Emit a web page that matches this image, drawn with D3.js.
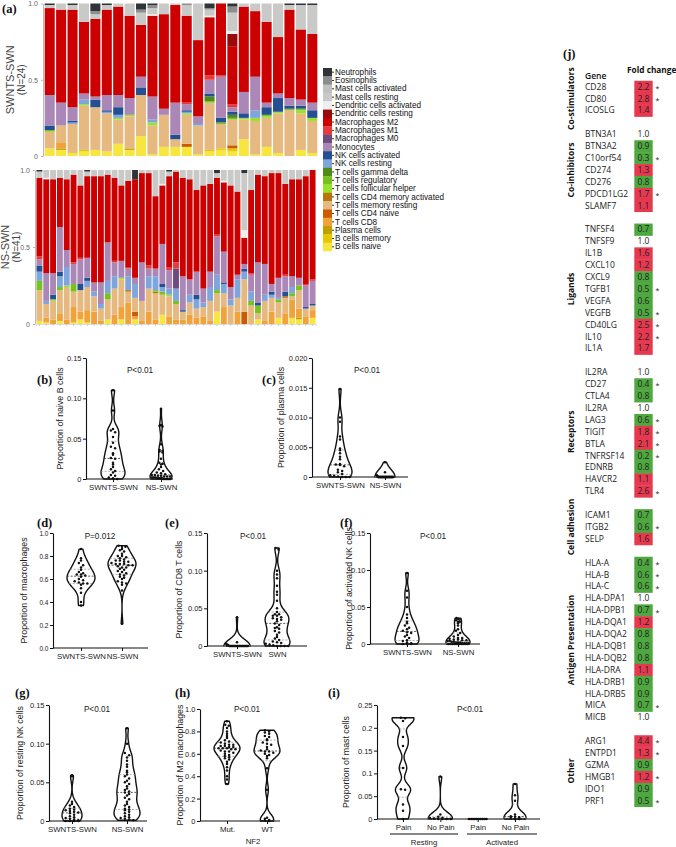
<!DOCTYPE html>
<html>
<head>
<meta charset="utf-8">
<script src="https://cdn.jsdelivr.net/npm/d3@7"></script>
<style>
body { margin: 0; background: #fff; }
svg { display: block; }
</style>
</head>
<body>
<div id="wrapper"></div>
<script>
// ---- (a) cell type fractions (percent, per sample) ----
const cellTypes = ["Neutrophils", "Eosinophils", "Mast cells activated", "Mast cells resting",
  "Dendritic cells activated", "Dendritic cells resting", "Macrophages M2", "Macrophages M1",
  "Macrophages M0", "Monocytes", "NK cells activated", "NK cells resting", "T cells gamma delta",
  "T cells regulatory", "T cells follicular helper", "T cells CD4 memory activated",
  "T cells memory resting", "T cells CD4 naive", "T cells CD8", "Plasma cells", "B cells memory",
  "B cells naive"]
const cellColors = ["#2f3437", "#8c8e8e", "#bfc1bf", "#c9cac8", "#efefed", "#9b0a0a", "#cc0000",
  "#e8393b", "#6d4b7d", "#aa87b7", "#244f93", "#7ea5dc", "#4f8c14", "#77c21c", "#99e22c",
  "#b8760a", "#e5b97f", "#cc5a00", "#f2a23a", "#bfa000", "#e6c800", "#f7e540"]

// SWNTS-SWN, 24 samples
const topNeut     = [1,0,1,0,5,1,0,0,4,1,0,0,0,0,3,0,2,0,0,0,0,1,1,1]
const topEos      = [0,0,0,0,2,0,0,0,2,2,0,0,1,0,1,0,4,0,0,0,0,0,0,0]
const topMastAct  = [0,0,0,0,0,0,0,0,0,0,0,0,0,0,0,0,0,0,0,0,0,0,0,0]
const topMastRest = [2,4,3,12,3,3,2,8,8,4,7,1,7,24,4,0,12,2,5,12,22,3,16,19]
const topDcAct    = [0,0,0,0,0,0,0,0,0,1,0,0,0,0,1,0,2,0,0,0,0,0,0,0]
const topDcRest   = [0,0,0,0,0,0,0,0,0,0,0,0,0,0,0,0,8,0,0,0,0,0,0,0]
const topM2       = [57,61,64,47,51,56,58,54,34,53,62,64,57,50,38,47,38,56,43,53,37,58,46,45]
const topM1       = [0,0,0,0,0,0,0,0,0,0,0,0,1,0,3,1,2,0,0,0,0,0,0,0]
const topM0       = [0,0,0,0,0,0,0,0,0,0,0,0,0,0,0,0,0,0,0,0,0,0,0,0]
const topMono     = [20,15,9,4,2,10,8,11,7,15,4,21,4,5,9,27,3,14,22,3,3,5,4,5]
const topNkAct    = [3,0,1,0,5,1,5,0,5,0,0,3,1,0,2,3,2,3,0,5,9,2,2,5]
const topNkRest   = [0,0,1,3,0,1,2,0,0,2,0,0,1,1,0,0,0,0,5,0,0,0,0,0]
const topGd       = [0,0,0,0,0,0,0,0,0,0,0,0,0,0,3,0,2,0,0,0,0,0,0,0]
const topTreg     = [1,0,0,0,0,0,0,0,0,0,0,0,0,0,1,1,1,0,0,1,0,1,1,0]
const topTfh      = [0,0,0,1,0,0,1,1,0,2,0,0,1,0,0,0,0,1,2,1,1,0,2,2]
const topCd4MA    = [0,0,0,0,0,0,0,0,0,0,0,0,0,0,0,0,0,0,0,0,0,0,0,0]
const topMemRest  = [11,11,19,29,28,25,16,21,27,19,21,5,19,19,31,16,17,13,22,19,26,30,24,21]
const topCd4N     = [0,0,0,0,0,0,0,0,0,0,0,0,2,0,0,0,2,0,0,0,0,0,0,0]
const topCd8      = [0,4,0,0,0,0,0,0,0,0,0,0,0,0,0,0,0,0,0,0,0,0,0,0]
const topPlasma   = [0,1,0,0,0,0,0,1,0,0,0,0,0,0,0,0,0,0,0,0,0,0,0,0]
const topBMem     = [0,0,0,1,0,0,0,0,0,0,0,0,0,0,1,1,2,0,0,0,0,0,0,0]
const topBNaive   = [5,4,2,3,4,3,8,4,13,1,6,6,6,1,3,4,3,11,1,6,2,0,4,2]

// NS-SWN, 41 samples
const botNeut     = [1,0,0,0,0,0,0,1,0,0,0,0,0,0,6,0,0,0,0,1,0,0,0,0,0,0,2,0,0,0,2,0,0,0,0,0,0,0,0,0,0]
const botEos      = [0,0,0,0,0,0,0,0,0,0,0,0,0,0,0,0,0,0,0,0,0,0,0,0,0,0,0,0,0,0,0,0,0,0,0,0,0,0,0,0,0]
const botMastAct  = [0,0,0,0,0,0,0,0,0,0,0,0,0,0,0,0,0,0,0,0,0,0,0,0,0,0,0,0,0,0,0,0,0,0,0,0,0,0,0,0,0]
const botMastRest = [4,5,6,5,6,3,10,3,4,4,3,5,10,7,0,2,2,17,9,3,1,5,6,13,10,9,3,7,10,14,37,13,3,4,2,2,9,6,6,4,0]
const botDcAct    = [0,1,0,0,0,0,0,0,0,0,0,0,0,0,0,0,0,0,1,0,0,0,0,0,0,0,0,1,0,0,5,0,0,0,0,0,0,0,0,0,0]
const botDcRest   = [0,0,0,0,0,0,0,0,0,0,0,0,0,0,0,0,0,0,0,0,0,0,0,0,0,0,0,0,0,0,0,0,0,0,0,0,0,0,0,0,0]
const botM2       = [51,61,61,32,46,57,47,53,69,69,44,54,49,56,64,58,60,47,38,59,59,64,65,53,67,57,37,45,66,54,17,54,57,57,72,68,59,63,64,70,71]
const botM1       = [2,0,0,0,0,1,1,0,0,0,0,1,0,1,0,0,2,0,0,2,4,0,0,0,0,0,1,0,0,0,0,1,0,0,0,0,1,0,0,1,1]
const botM0       = [0,0,0,0,0,0,0,0,0,0,0,0,0,0,0,0,0,0,0,0,13,0,0,0,0,0,0,0,0,0,0,0,0,0,0,0,0,0,0,0,0]
const botMono     = [4,18,14,29,11,13,16,13,6,14,25,9,11,5,4,25,5,5,26,12,0,22,10,15,9,10,25,20,8,3,3,11,26,20,5,13,10,7,5,14,15]
const botNkAct    = [4,0,3,3,0,0,4,2,0,0,0,0,0,0,0,0,0,0,2,0,0,1,0,3,0,0,0,1,0,0,2,0,2,0,2,0,3,0,0,1,1]
const botNkRest   = [6,2,0,7,12,0,0,4,3,3,8,8,0,9,9,0,8,9,3,4,8,0,5,6,3,9,10,6,4,12,5,6,0,4,2,1,0,4,0,0,0]
const botGd       = [0,0,0,0,0,0,0,0,0,0,0,0,0,0,0,0,0,0,0,0,0,0,0,0,0,0,0,0,0,0,0,0,0,0,0,0,0,0,0,0,0]
const botTreg     = [6,0,0,2,0,5,0,0,0,0,4,0,0,0,0,0,0,1,2,0,2,0,0,0,0,0,2,0,0,0,0,3,5,0,0,2,0,2,3,0,0]
const botTfh      = [0,0,1,0,1,0,0,0,0,0,0,0,1,0,0,0,0,0,0,1,0,0,0,0,0,0,0,0,0,0,0,0,0,0,0,0,0,0,0,0,0]
const botCd4MA    = [0,0,0,0,0,0,0,0,0,0,0,0,0,1,0,0,0,1,0,0,0,0,0,0,0,0,0,0,0,0,0,0,0,0,0,0,1,0,0,0,0]
const botMemRest  = [20,9,12,15,21,10,14,15,10,8,13,17,18,7,9,13,15,17,13,13,10,5,8,6,6,13,12,9,12,9,21,12,4,13,9,10,10,2,12,5,3]
const botCd4N     = [0,0,0,0,0,0,0,0,0,0,0,0,0,0,3,0,0,0,0,0,0,0,0,0,0,0,0,0,0,0,8,0,0,0,0,0,0,0,0,0,0]
const botCd8      = [0,3,3,5,3,10,5,8,8,2,0,6,8,14,2,2,8,3,0,5,3,3,6,4,5,2,0,11,0,8,0,0,0,2,8,0,7,12,6,5,5]
const botPlasma   = [0,0,0,0,0,0,0,0,0,0,0,0,0,0,0,0,0,0,0,0,0,0,0,0,0,0,0,0,0,0,0,0,0,0,0,0,0,0,1,0,0]
const botBMem     = [0,0,0,0,0,0,0,0,0,0,0,0,0,0,0,0,0,0,0,0,0,0,0,0,0,0,0,0,0,0,0,0,0,0,0,0,0,0,0,0,0]
const botBNaive   = [2,1,0,2,0,1,3,1,0,0,3,0,3,0,3,0,0,0,6,0,0,0,0,0,0,0,8,0,0,0,0,0,3,0,0,4,0,4,3,0,4]

// ---- (b)-(i) per-sample proportions ----
const naiveB_SWNTS = [0.110,0.085,0.062,0.060,0.058,0.052,0.045,0.040,0.038,0.032,0.030,0.026,0.025,0.020,0.018,0.015,0.012,0.010,0.008,0.005,0.004,0.002,0.001,0]
const naiveB_NS = [0.087,0.067,0.066,0.065,0.043,0.036,0.035,0.034,0.033,0.025,0.020,0.019,0.018,0.015,0.012,0.010,0.008,0.007,0.006,0.005,0.005,0.004,0.004,0.003,0.003,0.003,0.002,0.002,0.002,0.002,0.001,0.001,0.001,0.001,0.001,0,0,0,0,0,0]
const plasma_SWNTS = [0.0148,0.0100,0.0093,0.0068,0.0063,0.0048,0.0045,0.0040,0.0034,0.0030,0.0022,0.0021,0.0020,0.0018,0.0012,0.0010,0.0008,0.0005,0.0003,0.0002,0.0001,0,0,0]
const plasma_NS = [0.0025,0.0008,0.0003,0.0002,0.0001,0,0,0,0,0,0,0,0,0,0,0,0,0,0,0,0,0,0,0,0,0,0,0,0,0,0,0,0,0,0,0,0,0,0,0,0]
const macro_SWNTS = [0.86,0.78,0.76,0.74,0.72,0.70,0.68,0.66,0.65,0.64,0.64,0.63,0.62,0.60,0.59,0.58,0.57,0.56,0.56,0.55,0.52,0.48,0.40,0.37]
const macro_NS = [0.89,0.88,0.88,0.86,0.85,0.84,0.82,0.80,0.80,0.79,0.78,0.77,0.76,0.76,0.75,0.75,0.74,0.73,0.73,0.73,0.72,0.72,0.71,0.70,0.70,0.69,0.68,0.67,0.66,0.65,0.64,0.63,0.62,0.61,0.60,0.58,0.57,0.56,0.55,0.50,0.21]
const cd8_SWNTS = [0.038,0.005,0.003,0.002,0.001,0,0,0,0,0,0,0,0,0,0,0,0,0,0,0,0,0,0,0]
const cd8_SWN = [0.130,0.128,0.100,0.095,0.090,0.080,0.072,0.068,0.060,0.050,0.045,0.042,0.042,0.040,0.040,0.038,0.037,0.036,0.035,0.033,0.030,0.028,0.025,0.024,0.023,0.020,0.018,0.015,0.012,0.010,0.008,0.006,0.005,0.004,0.003,0.002,0.001,0,0,0,0]
const nkAct_SWNTS = [0.096,0.072,0.063,0.050,0.040,0.035,0.030,0.028,0.025,0.022,0.020,0.018,0.016,0.015,0.012,0.010,0.008,0.005,0.004,0.002,0.001,0,0,0]
const nkAct_NS = [0.035,0.034,0.033,0.032,0.030,0.030,0.028,0.025,0.020,0.018,0.015,0.012,0.010,0.008,0.008,0.007,0.006,0.006,0.005,0.005,0.004,0.004,0.003,0.003,0.002,0.002,0.002,0.001,0.001,0.001,0.001,0,0,0,0,0,0,0,0,0,0]
const nkRest_SWNTS = [0.059,0.058,0.025,0.022,0.020,0.018,0.016,0.015,0.014,0.013,0.012,0.011,0.010,0.008,0.006,0.005,0.004,0.003,0.002,0.001,0,0,0,0]
const nkRest_NS = [0.120,0.100,0.088,0.085,0.082,0.078,0.073,0.070,0.065,0.063,0.060,0.058,0.055,0.052,0.050,0.048,0.045,0.042,0.040,0.038,0.037,0.035,0.033,0.030,0.028,0.025,0.022,0.020,0.018,0.016,0.015,0.014,0.012,0.010,0.008,0.006,0.005,0.004,0.003,0.002,0.001]
const m2_Mut = [0.89,0.86,0.85,0.83,0.80,0.78,0.76,0.74,0.72,0.71,0.70,0.69,0.68,0.68,0.67,0.67,0.66,0.66,0.65,0.65,0.65,0.64,0.64,0.63,0.62,0.62,0.61,0.60,0.59,0.58,0.57,0.56,0.55,0.53,0.51,0.48,0.45,0.40,0.37,0.33]
const m2_WT = [0.81,0.80,0.79,0.78,0.76,0.75,0.73,0.72,0.70,0.69,0.68,0.66,0.64,0.63,0.62,0.62,0.61,0.60,0.59,0.58,0.56,0.47,0.28,0.03,0.02,0.01,0.005,0]
const mastRest_Pain = [0.222,0.221,0.215,0.180,0.160,0.112,0.065,0.064,0.032,0.018,0]
const mastRest_NoPain = [0.093,0.010,0.005,0.003,0.002,0.001,0,0,0,0]
const mastAct_Pain = [0,0,0,0,0,0,0,0,0,0]
const mastAct_NoPain = [0.077,0.052,0.040,0.010,0.006,0.005,0.004,0.002,0,0]

// ---- (j) fold change table ----
const groupNames = ["Co-stimulators", "Co-inhibitors", "Ligands", "Receptors", "Cell adhesion", "Antigen Presentation", "Other"]
const groupSizes = [3, 7, 11, 11, 3, 14, 6]
const genes = ["CD28","CD80","ICOSLG",
  "BTN3A1","BTN3A2","C10orf54","CD274","CD276","PDCD1LG2","SLAMF7",
  "TNFSF4","TNFSF9","IL1B","CXCL10","CXCL9","TGFB1","VEGFA","VEGFB","CD40LG","IL10","IL1A",
  "IL2RA","CD27","CTLA4","IL2RA","LAG3","TIGIT","BTLA","TNFRSF14","EDNRB","HAVCR2","TLR4",
  "ICAM1","ITGB2","SELP",
  "HLA-A","HLA-B","HLA-C","HLA-DPA1","HLA-DPB1","HLA-DQA1","HLA-DQA2","HLA-DQB1","HLA-DQB2","HLA-DRA","HLA-DRB1","HLA-DRB5","MICA","MICB",
  "ARG1","ENTPD1","GZMA","HMGB1","IDO1","PRF1"]
const foldChange = [2.2,2.8,1.4,
  1.0,0.9,0.3,1.3,0.8,1.7,1.1,
  0.7,1.0,1.6,1.2,0.8,0.5,0.6,0.5,2.5,2.2,1.7,
  1.0,0.4,0.8,1.0,0.6,1.8,2.1,0.2,0.8,1.1,2.6,
  0.7,0.6,1.6,
  0.4,0.6,0.6,1.0,0.7,1.2,0.8,0.8,0.8,1.1,0.9,0.9,0.7,1.0,
  4.4,1.3,0.9,1.2,0.9,0.5]
const significant = [1,1,0,
  0,0,1,0,0,1,0,
  0,0,0,0,0,1,0,1,1,1,0,
  0,1,0,0,1,1,1,1,0,0,1,
  0,1,0,
  1,1,1,0,1,0,0,0,0,0,0,0,1,0,
  1,1,0,1,0,1]

const sans = "'Liberation Sans', Arial, sans-serif"
const svg = d3.select("#wrapper").append("svg")
  .attr("width", 676).attr("height", 847)
  .style("font-family", sans)

const cellColor = d3.scaleOrdinal().domain(cellTypes).range(cellColors)

function panelTag(text, x, y) {
  svg.append("text").attr("x", x).attr("y", y).text(text)
    .style("font-family", "'Liberation Serif', 'DejaVu Serif', serif")
    .style("font-weight", "bold").style("font-size", "12.5px").attr("fill", "#111")
}

// ---------- (a) stacked bars ----------
function drawStack(series, dims) {
  const n = series[0].length
  const rows = d3.range(n).map(i => {
    const r = {id: i}
    cellTypes.forEach((k, j) => r[k] = series[j][i])
    return r
  })
  const layers = d3.stack()
    .keys(cellTypes.slice().reverse())
    .offset(d3.stackOffsetExpand)(rows)

  const x = d3.scaleBand().domain(d3.range(n))
    .range([dims.left, dims.right]).paddingInner(dims.pad).paddingOuter(dims.pad / 2)
  const y = d3.scaleLinear().domain([0, 1]).range([dims.bottom, dims.top])

  const g = svg.append("g")
  g.selectAll("g.layer").data(layers).join("g")
    .attr("fill", d => cellColor(d.key))
    .selectAll("rect").data(d => d).join("rect")
    .attr("x", d => x(d.data.id))
    .attr("width", x.bandwidth())
    .attr("y", d => y(d[1]))
    .attr("height", d => Math.max(0, y(d[0]) - y(d[1])))

  const yAxis = g.append("g")
    .attr("transform", `translate(${dims.left - 1},0)`)
    .call(d3.axisLeft(y).tickValues([0, 0.5, 1])
      .tickFormat(d => d === 0 ? "0" : d3.format(".1f")(d)).tickSize(2).tickSizeOuter(0))
  yAxis.select(".domain").attr("stroke", "#bbb")
  yAxis.selectAll(".tick line").attr("stroke", "#bbb")
  yAxis.selectAll("text").attr("fill", "#666").style("font-size", "7px").style("font-family", sans)

  if (dims.xTicks) {
    const xAxis = g.append("g")
      .attr("transform", `translate(0,${dims.bottom})`)
      .call(d3.axisBottom(x).tickSize(2).tickFormat(""))
    xAxis.select(".domain").attr("stroke", "#ddd")
    xAxis.selectAll(".tick line").attr("stroke", "#ccc")
  }

  const cy = (dims.top + dims.bottom) / 2
  g.append("text").attr("transform", `translate(${dims.labelX},${cy}) rotate(-90)`)
    .attr("text-anchor", "middle").attr("fill", "#444").style("font-size", "11px").text(dims.label)
  g.append("text").attr("transform", `translate(${dims.labelX + 11},${cy}) rotate(-90)`)
    .attr("text-anchor", "middle").attr("fill", "#444").style("font-size", "10px").text(dims.sub)
}

const topSeries = [topNeut, topEos, topMastAct, topMastRest, topDcAct, topDcRest, topM2, topM1, topM0,
  topMono, topNkAct, topNkRest, topGd, topTreg, topTfh, topCd4MA, topMemRest, topCd4N, topCd8,
  topPlasma, topBMem, topBNaive]
const botSeries = [botNeut, botEos, botMastAct, botMastRest, botDcAct, botDcRest, botM2, botM1, botM0,
  botMono, botNkAct, botNkRest, botGd, botTreg, botTfh, botCd4MA, botMemRest, botCd4N, botCd8,
  botPlasma, botBMem, botBNaive]

panelTag("(a)", 2, 13)
drawStack(topSeries, {left: 44, right: 318, top: 3.5, bottom: 156, pad: 0.12,
  label: "SWNTS-SWN", sub: "(N=24)", labelX: 14, xTicks: false})
drawStack(botSeries, {left: 36, right: 316, top: 170, bottom: 324, pad: 0.14,
  label: "NS-SWN", sub: "(N=41)", labelX: 9, xTicks: true})

// legend
const legendY = d3.scaleBand().domain(cellTypes).range([68, 251])
const legend = svg.append("g")
legend.selectAll("rect").data(cellTypes).join("rect")
  .attr("x", 323).attr("width", 9)
  .attr("y", d => legendY(d)).attr("height", legendY.bandwidth() + 0.3)
  .attr("fill", d => cellColor(d))
const legendAxis = legend.append("g").attr("transform", "translate(332,0)")
  .call(d3.axisRight(legendY).tickSize(2).tickPadding(1))
legendAxis.select(".domain").remove()
legendAxis.selectAll(".tick line").attr("stroke", "#333")
legendAxis.selectAll("text").attr("fill", "#111").style("font-size", "8.2px").style("font-family", sans)

// ---------- violins ----------
function drawViolin(c) {
  const g = svg.append("g")
  const y = d3.scaleLinear().domain([0, c.max]).range([c.yBot, c.yTop])
  const x = d3.scalePoint().domain(d3.range(c.cats.length)).range([c.cx0, c.cx1])

  const yAxis = g.append("g").attr("transform", `translate(${c.x0},0)`)
    .call(d3.axisLeft(y).tickValues(c.ticks).tickFormat(c.fmt).tickSize(3).tickSizeOuter(0).tickPadding(1.5))
  yAxis.select(".domain").attr("stroke", "#111").attr("stroke-width", 1.1)
  yAxis.selectAll(".tick line").attr("stroke", "#111").attr("stroke-width", 1)
  yAxis.selectAll("text").attr("fill", "#222").style("font-size", c.tickSize || "7.5px").style("font-family", sans)

  g.append("line").attr("x1", c.x0).attr("x2", c.xEnd).attr("y1", c.yBot).attr("y2", c.yBot)
    .attr("stroke", "#111").attr("stroke-width", 1.1)
  const xAxis = g.append("g").attr("transform", `translate(0,${c.yBot})`)
    .call(d3.axisBottom(x).tickFormat(i => c.cats[i]).tickSize(3).tickSizeOuter(0).tickPadding(2))
  xAxis.select(".domain").remove()
  xAxis.selectAll(".tick line").attr("stroke", "#111")
  xAxis.selectAll("text").attr("fill", "#222").style("font-size", "7.8px").style("font-family", sans)

  g.append("text")
    .attr("transform", `translate(${c.labelX},${(c.yTop + c.yBot) / 2 + (c.labelDy || 0)}) rotate(-90)`)
    .attr("text-anchor", "middle").attr("fill", "#222").style("font-size", "8.8px").text(c.label)
  g.append("text").attr("x", c.px).attr("y", c.py).attr("text-anchor", "middle")
    .attr("fill", "#222").style("font-size", "8.2px").text(c.p)

  c.groups.forEach((vals, i) => {
    const cx = x(i)
    const hwMax = c.halfW[i]
    const lo = d3.min(vals), hi = d3.max(vals)
    const bw = c.bw
    const dens = v => d3.sum(vals, d => Math.exp(-0.5 * ((v - d) / bw) ** 2))
    let widthAt
    if (hi - lo < 1e-9) {
      widthAt = () => hwMax
      g.append("line").attr("x1", cx - hwMax).attr("x2", cx + hwMax)
        .attr("y1", y(lo)).attr("y2", y(lo)).attr("stroke", "#111").attr("stroke-width", 1.6)
    } else {
      const ys = d3.range(81).map(k => lo + (hi - lo) * k / 80)
      const dmax = d3.max(ys, dens)
      const w = d3.scaleLinear().domain([0, dmax]).range([0, hwMax])
      widthAt = v => w(dens(v))
      const pts = ys.map(v => [v, widthAt(v)])
      const area = d3.area().curve(d3.curveBasis)
        .y(p => y(p[0])).x0(p => cx - p[1]).x1(p => cx + p[1])
      g.append("path").datum(pts).attr("d", area)
        .attr("fill", "none").attr("stroke", "#111").attr("stroke-width", 1.4)
        .attr("stroke-linejoin", "round")
      const sorted = vals.slice().sort(d3.ascending)
      ;[0.25, 0.5, 0.75].forEach(q => {
        const v = d3.quantile(sorted, q)
        const hw = widthAt(v)
        g.append("line").attr("x1", cx - hw).attr("x2", cx + hw).attr("y1", y(v)).attr("y2", y(v))
          .attr("stroke", q === 0.5 ? "#333" : "#999").attr("stroke-width", 0.8)
          .attr("stroke-dasharray", "2,1.5")
      })
    }
    // dots, spread across the violin row by row
    const rowsOfDots = d3.groups(vals, v => Math.round(y(v) / 2.6))
    rowsOfDots.forEach(([, arr]) => {
      const hw = Math.max(widthAt(arr[0]) - 1.5, 1.5)
      const step = arr.length > 1 ? Math.min(4.2, (2 * hw) / (arr.length - 1)) : 0
      arr.forEach((v, j) => {
        g.append("circle")
          .attr("cx", cx + (j - (arr.length - 1) / 2) * step)
          .attr("cy", y(v)).attr("r", 1.25).attr("fill", "#111")
      })
    })
  })
  return g
}

const fmt2 = d => d === 0 ? "0" : d3.format(".2f")(d)
const fmt1 = d => d === 0 ? "0" : d3.format(".1f")(d)

panelTag("(b)", 37, 384)
drawViolin({x0: 86, xEnd: 173, yTop: 358, yBot: 479, max: 0.15, ticks: [0, 0.05, 0.10, 0.15], fmt: fmt2,
  cats: ["SWNTS-SWN", "NS-SWN"], cx0: 113, cx1: 161, halfW: [12, 11], bw: 0.007,
  groups: [naiveB_SWNTS, naiveB_NS], label: "Proportion of naive B cells", labelX: 63,
  p: "P<0.01", px: 140, py: 373})

panelTag("(c)", 262, 384)
drawViolin({x0: 312, xEnd: 408, yTop: 358, yBot: 477, max: 0.02, ticks: [0, 0.005, 0.010, 0.015, 0.020],
  fmt: d => d === 0 ? "0" : d3.format(".3f")(d),
  cats: ["SWNTS-SWN", "NS-SWN"], cx0: 340, cx1: 385, halfW: [12, 10], bw: 0.0012,
  groups: [plasma_SWNTS, plasma_NS], label: "Proportion of plasma cells", labelX: 284,
  p: "P<0.01", px: 367, py: 373})

panelTag("(d)", 37, 527)
drawViolin({x0: 53, xEnd: 148, yTop: 533, yBot: 648, max: 1.0, ticks: [0, 0.2, 0.4, 0.6, 0.8, 1.0],
  fmt: d => d3.format(".1f")(d), tickSize: "6.5px",
  cats: ["SWNTS-SWN", "NS-SWN"], cx0: 81, cx1: 122, halfW: [14, 14], bw: 0.05,
  groups: [macro_SWNTS, macro_NS], label: "Proportion of macrophages", labelX: 27,
  p: "P=0.012", px: 100, py: 539})

panelTag("(e)", 165, 527)
drawViolin({x0: 207, xEnd: 307, yTop: 533, yBot: 646, max: 0.15, ticks: [0, 0.05, 0.10, 0.15], fmt: fmt2,
  cats: ["SWNTS-SWN", "SWN"], cx0: 237, cx1: 277, halfW: [13, 13], bw: 0.008,
  groups: [cd8_SWNTS, cd8_SWN], label: "Proportion of CD8 T cells", labelX: 182,
  p: "P<0.01", px: 253, py: 539})

panelTag("(f)", 340, 527)
drawViolin({x0: 370, xEnd: 480, yTop: 533, yBot: 644, max: 0.15, ticks: [0, 0.05, 0.10, 0.15], fmt: fmt2,
  cats: ["SWNTS-SWN", "NS-SWN"], cx0: 407, cx1: 458, halfW: [12, 12], bw: 0.007,
  groups: [nkAct_SWNTS, nkAct_NS], label: "Proportion of activated NK cells", labelX: 352,
  p: "P<0.01", px: 433, py: 539})

panelTag("(g)", 15, 697)
drawViolin({x0: 49, xEnd: 147, yTop: 705, yBot: 821, max: 0.15, ticks: [0, 0.05, 0.10, 0.15], fmt: fmt2,
  cats: ["SWNTS-SWN", "NS-SWN"], cx0: 72, cx1: 127, halfW: [10, 13], bw: 0.007,
  groups: [nkRest_SWNTS, nkRest_NS], label: "Proportion of resting NK cells", labelX: 23,
  p: "P<0.01", px: 97, py: 712})

panelTag("(h)", 175, 697)
drawViolin({x0: 200, xEnd: 280, yTop: 709, yBot: 821, max: 1.0, ticks: [0, 0.2, 0.4, 0.6, 0.8, 1.0], fmt: fmt1,
  cats: ["Mut.", "WT"], cx0: 227, cx1: 267, halfW: [13, 13], bw: 0.045,
  groups: [m2_Mut, m2_WT], label: "Proportion of M2 macrophages", labelX: 183,
  p: "P<0.01", px: 247, py: 712})
svg.append("text").attr("x", 253).attr("y", 844).attr("text-anchor", "middle")
  .attr("fill", "#222").style("font-size", "7.8px").text("NF2")

panelTag("(i)", 328, 697)
drawViolin({x0: 377, xEnd: 540, yTop: 705, yBot: 819, max: 0.25, ticks: [0, 0.05, 0.1, 0.15, 0.2, 0.25],
  fmt: d => d === 0 ? "0" : String(d),
  cats: ["Pain", "No Pain", "Pain", "No Pain"], cx0: 403, cx1: 515, halfW: [11, 12, 10, 11], bw: 0.012,
  groups: [mastRest_Pain, mastRest_NoPain, mastAct_Pain, mastAct_NoPain], label: "Proportion of mast cells",
  labelX: 349, p: "P<0.01", px: 470, py: 712})
const mastGroups = [["Resting", 390, 458], ["Activated", 467, 537]]
mastGroups.forEach(([name, a, b]) => {
  svg.append("line").attr("x1", a).attr("x2", b).attr("y1", 834).attr("y2", 834)
    .attr("stroke", "#111").attr("stroke-width", 1)
  svg.append("text").attr("x", (a + b) / 2).attr("y", 845).attr("text-anchor", "middle")
    .attr("fill", "#222").style("font-size", "7.8px").text(name)
})

// ---------- (j) fold change table ----------
const tableFont = "'Open Sans', 'Noto Sans', sans-serif"
const tg = svg.append("g").style("font-family", tableFont)
panelTag("(j)", 563, 58)
tg.append("text").attr("x", 627).attr("y", 73).text("Fold change")
  .style("font-weight", "bold").style("font-size", "8.3px").attr("fill", "#111")
tg.append("text").attr("x", 585).attr("y", 79).text("Gene")
  .style("font-weight", "600").style("font-size", "8.5px").attr("fill", "#111")

const rowIndex = []
const groupSpans = []
let r = 0
groupSizes.forEach(size => {
  groupSpans.push([r, r + size - 1])
  for (let k = 0; k < size; k++) rowIndex.push(r++)
  r++
})
const rowY = d3.scaleLinear().domain([0, 60]).range([86.7, 800.7])
const rowH = rowY(1) - rowY(0)
const cellFill = d3.scaleThreshold().domain([0.999, 1.001]).range(["#4ea83f", "none", "#e6394f"])

const tableRows = genes.map((gname, i) => ({gene: gname, fc: foldChange[i], sig: significant[i], row: rowIndex[i]}))
tg.selectAll("rect.cell").data(tableRows.filter(d => cellFill(d.fc) !== "none")).join("rect")
  .attr("x", 634.3).attr("width", 18.4)
  .attr("y", d => rowY(d.row) - rowH / 2).attr("height", rowH + 0.4)
  .attr("fill", d => cellFill(d.fc))
tg.selectAll("text.gene").data(tableRows).join("text")
  .attr("x", 585).attr("y", d => rowY(d.row)).attr("dy", "0.35em")
  .attr("fill", "#222").style("font-size", "8.5px").text(d => d.gene)
tg.selectAll("text.fc").data(tableRows).join("text")
  .attr("x", 643.5).attr("y", d => rowY(d.row)).attr("dy", "0.35em").attr("text-anchor", "middle")
  .attr("fill", "#222").style("font-size", "8.5px").text(d => d3.format(".1f")(d.fc))
tg.selectAll("text.star").data(tableRows.filter(d => d.sig)).join("text")
  .attr("x", 657.5).attr("y", d => rowY(d.row)).attr("dy", "0.6em").attr("text-anchor", "middle")
  .attr("fill", "#222").style("font-size", "7px").text("*")
tg.selectAll("text.group").data(groupNames).join("text")
  .attr("transform", (d, i) => `translate(573.5,${(rowY(groupSpans[i][0]) + rowY(groupSpans[i][1])) / 2}) rotate(-90)`)
  .attr("text-anchor", "middle").style("font-weight", "bold").style("font-size", "8.5px")
  .attr("fill", "#111").text(d => d)
</script>
</body>
</html>
